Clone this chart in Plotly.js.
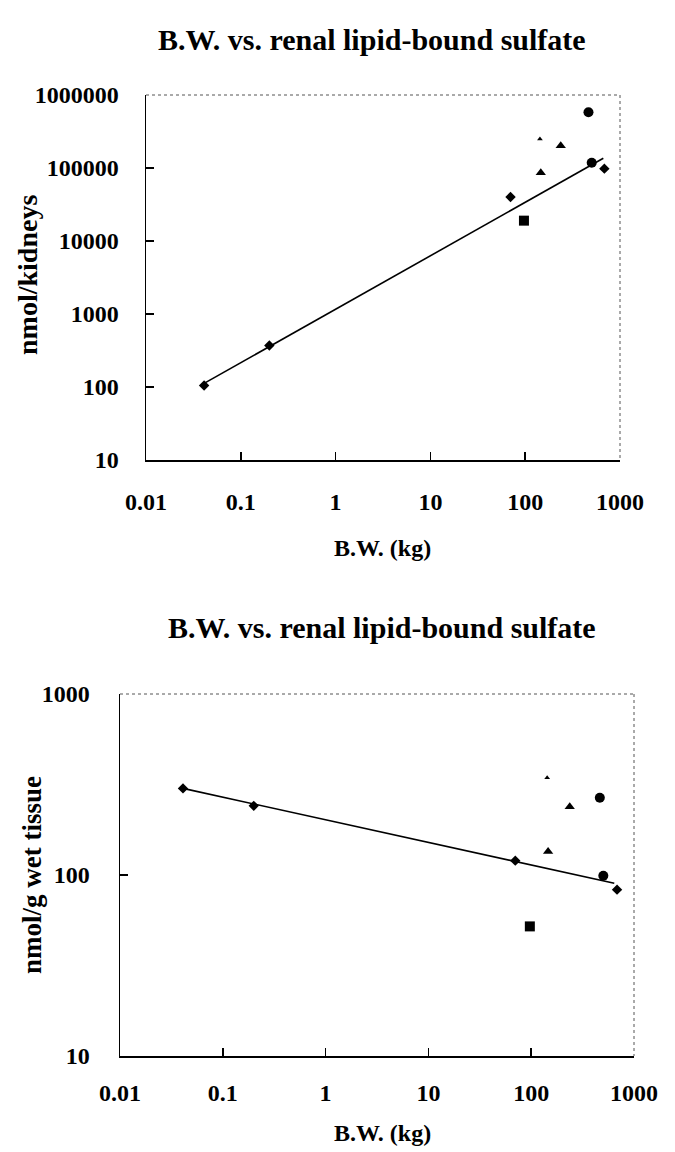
<!DOCTYPE html>
<html>
<head>
<meta charset="utf-8">
<script src="https://cdn.plot.ly/plotly-3.0.1.min.js"></script>
<style>html,body{margin:0;padding:0;background:#fff;}#chart{width:675px;height:1152px;}</style>
</head>
<body>
<div id="chart"></div>
<script>
// ---- Data ----
const chartTitle = "B.W. vs. renal lipid-bound sulfate";
const xTitle = "B.W. (kg)";
const yTitleTop = "nmol/kidneys";
const yTitleBottom = "nmol/g wet tissue";

const xTickVals = [0.01, 0.1, 1, 10, 100, 1000];
const xTickText = ["0.01", "0.1", "1", "10", "100", "1000"];
const yTopTickVals = [10, 100, 1000, 10000, 100000, 1000000];
const yTopTickText = ["10", "100", "1000", "10000", "100000", "1000000"];
const yBotTickVals = [10, 100, 1000];
const yBotTickText = ["10", "100", "1000"];

// body weight (kg) per marker group
const bwDiamond = [0.041, 0.2, 70, 684];
const bwCircle = [465, 503];
const bwSquare = [97];
const bwTriangle = [146, 237];
const bwSmallTriangle = [143];

// renal lipid-bound sulfate, nmol/kidneys
const kidDiamond = [105, 370, 40000, 98000];
const kidCircle = [580000, 118000];
const kidSquare = [19000];
const kidTriangle = [86000, 202000];
const kidSmallTriangle = [250000];

// renal lipid-bound sulfate, nmol/g wet tissue
const tisDiamond = [301, 241, 120, 83];
const tisCircle = [267, 99];
const tisSquare = [52];
const tisTriangle = [135, 238];
const tisSmallTriangle = [345];

// fitted (power-law) trend lines, endpoints
const fitTopX = [0.041, 667];
const fitTopY = [112, 136000];
const fitBotX = [0.041, 643];
const fitBotY = [301, 90];

// ---- Layout geometry ----
const W = 675, H = 1152;
const boxTop = {l: 146, r: 620, t: 95, b: 460};
const boxBot = {l: 120, r: 634, t: 694, b: 1056};
const px = v => v / W;
const py = v => 1 - v / H;

const FONT = "Liberation Serif, Times New Roman, serif";
const black = "#000";

function markerTraces(xa, ya, bw, vals) {
  const base = {type: "scatter", mode: "markers", xaxis: xa, yaxis: ya, showlegend: false, hoverinfo: "x+y"};
  const styles = [
    {symbol: "diamond", size: 8},
    {symbol: "circle", size: 10},
    {symbol: "square", size: 10},
    {symbol: "triangle-up", size: 9},
    {symbol: "triangle-up", size: 5}
  ];
  return styles.map((s, i) => Object.assign({}, base, {x: bw[i], y: vals[i], marker: {symbol: s.symbol, size: s.size, color: black}}));
}

const bwGroups = [bwDiamond, bwCircle, bwSquare, bwTriangle, bwSmallTriangle];

const traces = [
  {type: "scatter", mode: "lines", x: fitTopX, y: fitTopY, xaxis: "x", yaxis: "y", line: {color: black, width: 1.6}, showlegend: false, hoverinfo: "skip"},
  {type: "scatter", mode: "lines", x: fitBotX, y: fitBotY, xaxis: "x2", yaxis: "y2", line: {color: black, width: 1.6}, showlegend: false, hoverinfo: "skip"}
].concat(
  markerTraces("x", "y", bwGroups, [kidDiamond, kidCircle, kidSquare, kidTriangle, kidSmallTriangle]),
  markerTraces("x2", "y2", bwGroups, [tisDiamond, tisCircle, tisSquare, tisTriangle, tisSmallTriangle])
);

const tickFont = {family: FONT, size: 24, color: black, weight: "bold"};

function xAxis(dom, anchor, standoff) {
  return {
    type: "log", range: [-2, 3], domain: dom, anchor: anchor,
    tickvals: xTickVals, ticktext: xTickText, tickfont: tickFont,
    ticks: "inside", ticklen: 8, tickwidth: 1.5, tickcolor: black,
    ticklabelstandoff: standoff,
    showline: true, linecolor: black, linewidth: 1.5, mirror: false,
    showgrid: false, zeroline: false, fixedrange: true
  };
}
function yAxis(dom, anchor, range, vals, text, standoff) {
  return {
    type: "log", range: range, domain: dom, anchor: anchor,
    tickvals: vals, ticktext: text, tickfont: tickFont,
    ticks: "inside", ticklen: 8, tickwidth: 1.5, tickcolor: black,
    ticklabelstandoff: standoff,
    showline: true, linecolor: black, linewidth: 1.5, mirror: false,
    showgrid: false, zeroline: false, fixedrange: true
  };
}

const frameLine = {color: "#555", width: 1, dash: "dot"};

const layout = {
  width: W, height: H,
  margin: {l: 0, r: 0, t: 0, b: 0},
  paper_bgcolor: "#fff", plot_bgcolor: "#fff",
  showlegend: false,
  xaxis: xAxis([px(boxTop.l), px(boxTop.r)], "y", 20),
  yaxis: yAxis([py(boxTop.b), py(boxTop.t)], "x", [1, 6], yTopTickVals, yTopTickText, 21),
  xaxis2: xAxis([px(boxBot.l), px(boxBot.r)], "y2", 15),
  yaxis2: yAxis([py(boxBot.b), py(boxBot.t)], "x2", [1, 3], yBotTickVals, yBotTickText, 24),
  shapes: [
    {type: "line", xref: "paper", yref: "paper", x0: px(boxTop.l), x1: px(boxTop.r), y0: py(boxTop.t), y1: py(boxTop.t), line: frameLine},
    {type: "line", xref: "paper", yref: "paper", x0: px(boxTop.r), x1: px(boxTop.r), y0: py(boxTop.t), y1: py(boxTop.b), line: frameLine},
    {type: "line", xref: "paper", yref: "paper", x0: px(boxBot.l), x1: px(boxBot.r), y0: py(boxBot.t), y1: py(boxBot.t), line: frameLine},
    {type: "line", xref: "paper", yref: "paper", x0: px(boxBot.r), x1: px(boxBot.r), y0: py(boxBot.t), y1: py(boxBot.b), line: frameLine}
  ],
  annotations: [
    {text: chartTitle, xref: "paper", yref: "paper", x: px(372), y: py(40), xanchor: "center", yanchor: "middle", showarrow: false, font: {family: FONT, size: 30, color: black, weight: "bold"}},
    {text: chartTitle, xref: "paper", yref: "paper", x: px(382), y: py(627), xanchor: "center", yanchor: "middle", showarrow: false, font: {family: FONT, size: 30, color: black, weight: "bold"}},
    {text: xTitle, xref: "paper", yref: "paper", x: px(383), y: py(548), xanchor: "center", yanchor: "middle", showarrow: false, font: {family: FONT, size: 24, color: black, weight: "bold"}},
    {text: xTitle, xref: "paper", yref: "paper", x: px(383), y: py(1133), xanchor: "center", yanchor: "middle", showarrow: false, font: {family: FONT, size: 24, color: black, weight: "bold"}},
    {text: yTitleTop, xref: "paper", yref: "paper", x: px(27), y: py(275), xanchor: "center", yanchor: "middle", textangle: -90, showarrow: false, font: {family: FONT, size: 28, color: black, weight: "bold"}},
    {text: yTitleBottom, xref: "paper", yref: "paper", x: px(32), y: py(875), xanchor: "center", yanchor: "middle", textangle: -90, showarrow: false, font: {family: FONT, size: 27, color: black, weight: "bold"}}
  ]
};

Plotly.newPlot("chart", traces, layout, {staticPlot: true, displayModeBar: false});
</script>
</body>
</html>
